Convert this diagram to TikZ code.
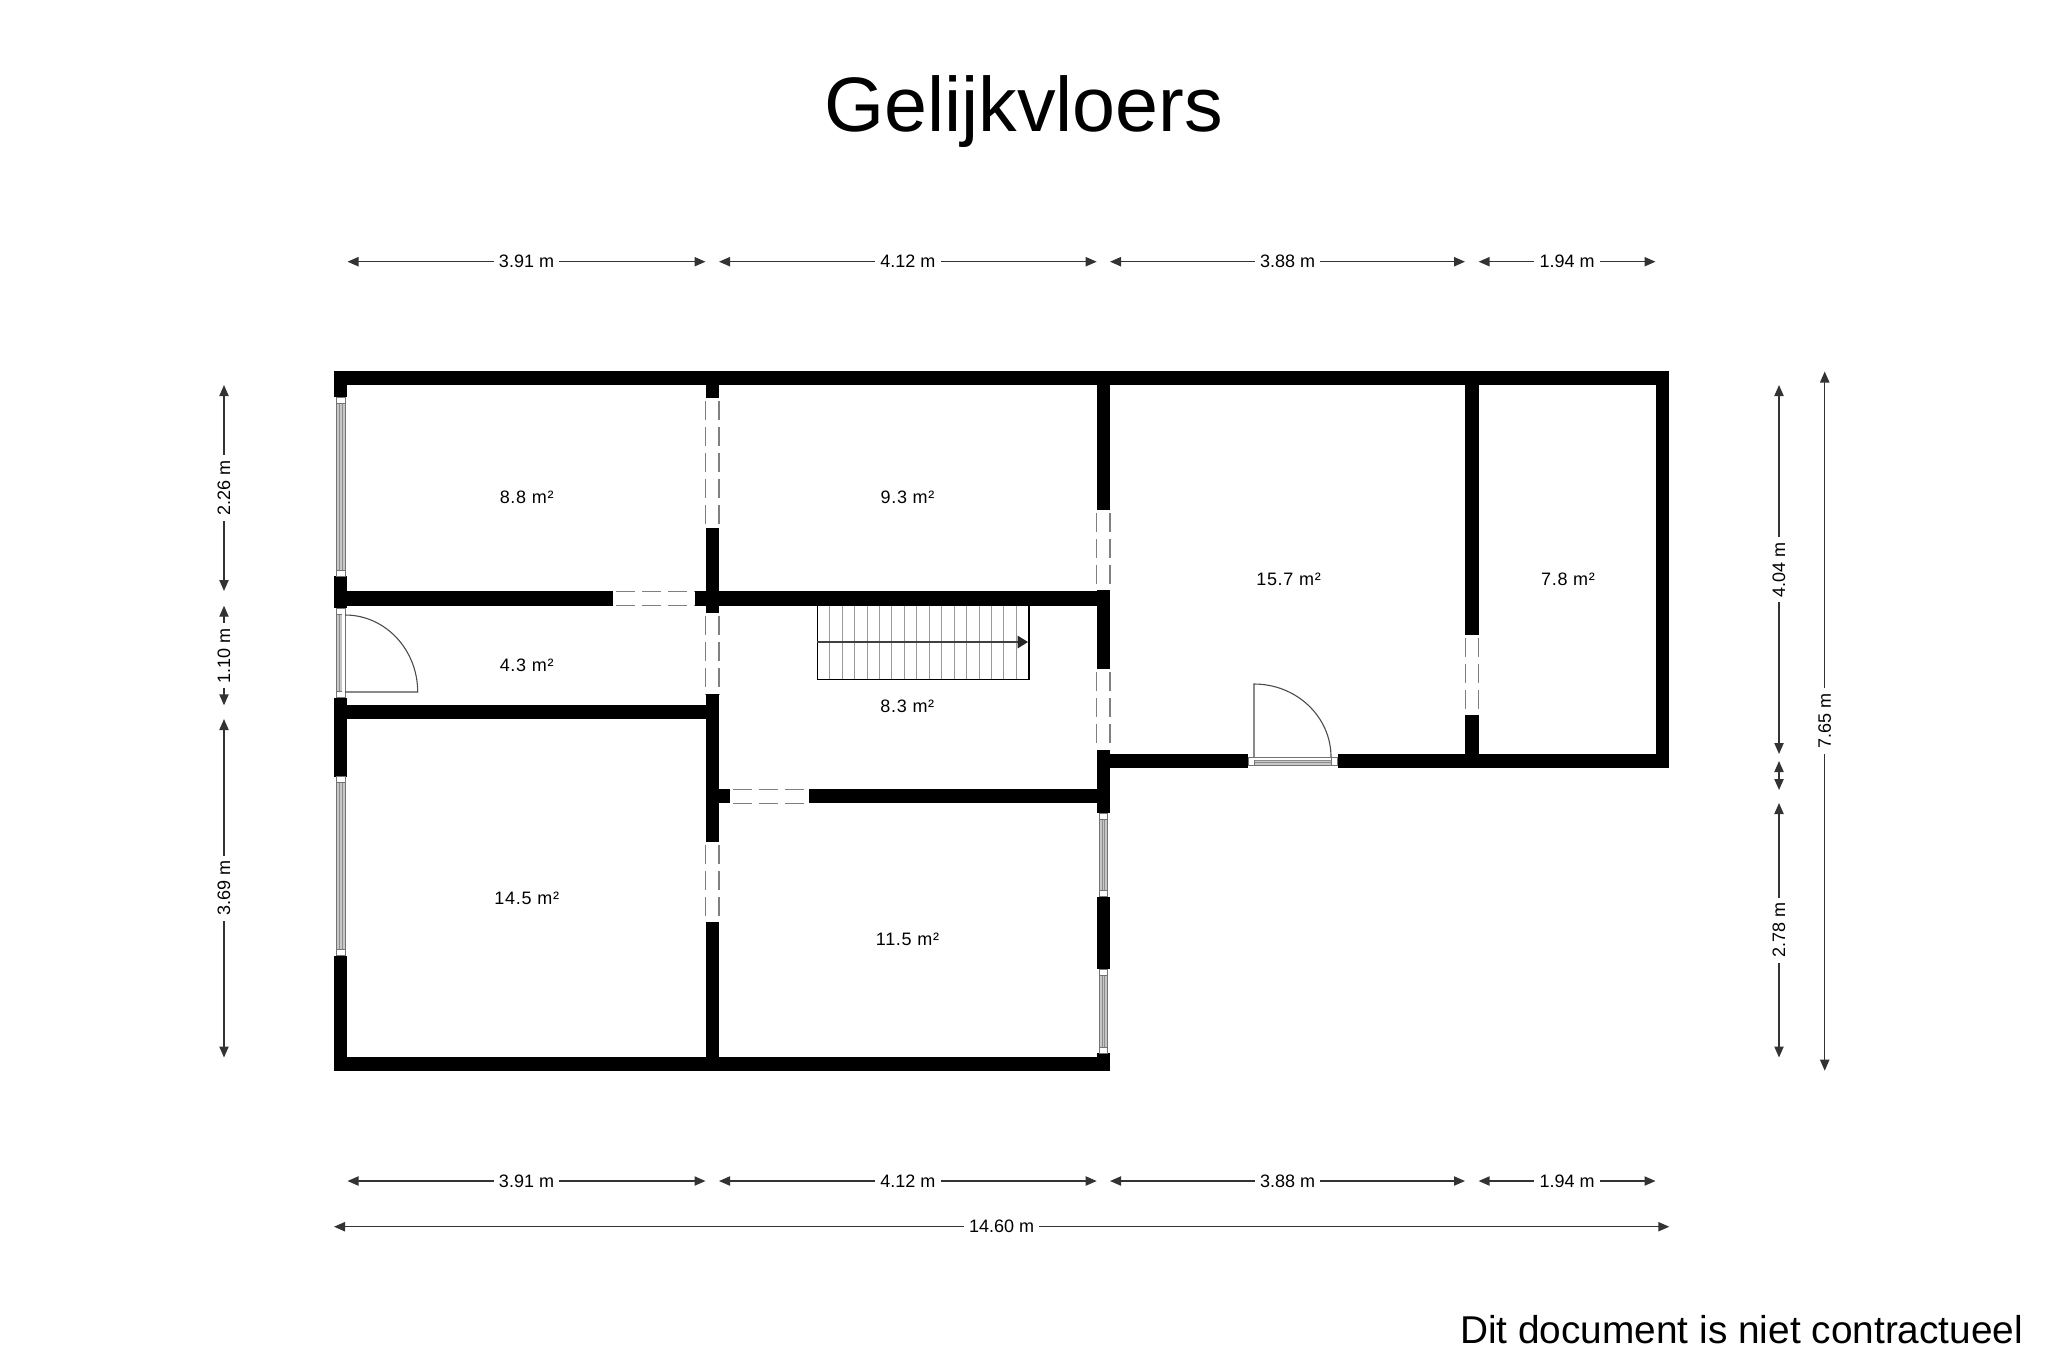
\documentclass[tikz,border=0pt]{standalone}
\usepackage{fontspec}
\setmainfont{Liberation Sans}
\usetikzlibrary{arrows.meta}
\tikzset{
  wall/.style={fill=black},
  dimline/.style={draw=black!80,line width=0.7pt,{Triangle[length=5.5pt,width=4.6pt]}-{Triangle[length=5.5pt,width=4.6pt]}},
  dimlabel/.style={fill=white,inner xsep=2.6pt,inner ysep=1pt,font=\fontsize{9}{10}\selectfont,text=black},
  roomlabel/.style={font=\fontsize{9}{10}\selectfont\addfontfeature{LetterSpace=4},text=black},
  doorgap/.style={fill=white},
  dashline/.style={draw=black!50,line width=0.6pt,dash pattern=on 9.5pt off 3.5pt,dash phase=-1.5pt},
  glass/.style={fill=black!22,draw=black!55,line width=0.4pt},
  glassline/.style={draw=black!45,line width=0.35pt},
  frame/.style={fill=white,draw=black!55,line width=0.4pt},
  leaf/.style={draw=black!70,line width=0.55pt},
  tread/.style={draw=black!40,line width=0.5pt}
}
% gaps
\newcommand{\gapV}[3]{\fill[doorgap] (#1-6.6,#2) rectangle (#1+6.6,#3);
  \draw[dashline] (#1-6.6,#2) -- (#1-6.6,#3);
  \draw[dashline] (#1+6.6,#2) -- (#1+6.6,#3);}
\newcommand{\gapH}[3]{\fill[doorgap] (#2,#1-7) rectangle (#3,#1+7);
  \draw[dashline] (#2,#1-7) -- (#3,#1-7);
  \draw[dashline] (#2,#1+7) -- (#3,#1+7);}
% windows
\newcommand{\winV}[3]{\draw[glass] (#1-4.1,#2+6) rectangle (#1+4.1,#3-6);
  \draw[glassline] (#1-1.4,#2+6) -- (#1-1.4,#3-6);
  \draw[glassline] (#1+1.4,#2+6) -- (#1+1.4,#3-6);
  \draw[frame] (#1-4.1,#2) rectangle (#1+4.1,#2+6);
  \draw[frame] (#1-4.1,#3-6) rectangle (#1+4.1,#3);}
\newcommand{\winH}[3]{\draw[glass] (#2+6,#1-4.1) rectangle (#3-6,#1+4.1);
  \draw[glassline] (#2+6,#1-1.4) -- (#3-6,#1-1.4);
  \draw[glassline] (#2+6,#1+1.4) -- (#3-6,#1+1.4);
  \draw[frame] (#2,#1-4.1) rectangle (#2+6,#1+4.1);
  \draw[frame] (#3-6,#1-4.1) rectangle (#3,#1+4.1);}
% dimensions
\newcommand{\dimH}[5]{\coordinate (#5a) at (#2,#1); \coordinate (#5b) at (#3,#1);
  \draw[dimline] (#5a) -- node[dimlabel] (#5) {#4} (#5b);}
\newcommand{\dimV}[5]{\coordinate (#5a) at (#1,#2); \coordinate (#5b) at (#1,#3);
  \draw[dimline] (#5a) -- node[dimlabel,rotate=90] (#5) {#4} (#5b);}
\begin{document}
\begin{tikzpicture}[x=0.5pt,y=-0.5pt]
\useasboundingbox[fill=white] (0,0) rectangle (2048,1367);

% title and footer
\node[anchor=base,inner sep=0pt,font=\fontsize{38.6}{40}\selectfont] (title) at (1023.5,131.7) {Gelijkvloers};
\node[anchor=base east,inner sep=0pt,font=\fontsize{19.4}{22}\selectfont] (footer) at (2023.5,1343) {Dit document is niet contractueel};

% door gaps (under walls)
\gapV{712.3}{397.7}{527.7}
\gapV{712.3}{612.7}{694.3}
\gapV{712.3}{842.3}{922.3}
\gapV{1103.3}{510}{590}
\gapV{1103.3}{669.3}{750}
\gapV{1471.8}{635.3}{715.3}
\gapH{598.4}{613.3}{695}
\gapH{796.3}{730}{809.3}

% walls
\fill[wall] (334,371.3) rectangle (1669,385);
\fill[wall] (334,371.3) rectangle (347.3,396.7);
\fill[wall] (334,576) rectangle (347.3,608.3);
\fill[wall] (334,697.7) rectangle (347.3,776.7);
\fill[wall] (334,955.7) rectangle (347.3,1071);
\fill[wall] (334,1057.3) rectangle (1110,1071);
\fill[wall] (347,591.3) rectangle (613.3,605.7);
\fill[wall] (695,591.3) rectangle (1097,605.7);
\fill[wall] (347,705.3) rectangle (706,719.3);
\fill[wall] (705.7,385) rectangle (719,397.7);
\fill[wall] (705.7,527.7) rectangle (719,612.7);
\fill[wall] (705.7,694.3) rectangle (719,842.3);
\fill[wall] (705.7,922.3) rectangle (719,1057.3);
\fill[wall] (1096.7,385) rectangle (1110,510);
\fill[wall] (1096.7,590) rectangle (1110,669.3);
\fill[wall] (1096.7,750) rectangle (1110,813.3);
\fill[wall] (1096.7,896.7) rectangle (1110,969.3);
\fill[wall] (1096.7,1053.3) rectangle (1110,1071);
\fill[wall] (719,789.3) rectangle (730,803.3);
\fill[wall] (809.3,789.3) rectangle (1097,803.3);
\fill[wall] (1110,754.3) rectangle (1247.7,768);
\fill[wall] (1337.7,754.3) rectangle (1669,768);
\fill[wall] (1465,385) rectangle (1478.5,635.3);
\fill[wall] (1465,715.3) rectangle (1478.5,754.3);
\fill[wall] (1655.7,371.3) rectangle (1669,768);

% windows
\winV{340.8}{397}{576}
\winV{340.8}{608.3}{697.7}
\winV{340.8}{776.7}{955.7}
\winV{1103.3}{813.3}{896.7}
\winV{1103.3}{969.3}{1053.3}
\winH{761.3}{1248}{1337.5}
\fill[white] (1254.2,757.6) rectangle (1331,760);
\fill[white] (342.4,614.4) rectangle (344.8,691.6);

% doors
\draw[leaf] (345.2,692) -- (417.7,692) .. controls (417.7,649.5) and (385.2,615) .. (345.2,615);
\draw[leaf] (1254,757) -- (1254,684) .. controls (1296.5,684) and (1331,716.7) .. (1331,757);

% stairs
\foreach \i in {1,...,16} {\draw[tread] ({817.3+12.44*\i},605.7) -- ({817.3+12.44*\i},679.3);}
\draw[black,line width=0.8pt] (817.3,605.7) -- (817.3,679.3) -- (1028.7,679.3) -- (1028.7,605.7);
\coordinate (stairstart) at (817.3,642);
\coordinate (stairend) at (1017.5,642);
\draw[black!75,line width=0.6pt] (stairstart) -- (stairend);
\fill[black!85] (1017.5,635.5) -- (1028,642) -- (1017.5,648.5) -- cycle;

% room areas
\node[roomlabel] (r1) at (526.7,497.7) {8.8 m²};
\node[roomlabel] (r2) at (907.5,497.7) {9.3 m²};
\node[roomlabel] (r3) at (1288.6,579.5) {15.7 m²};
\node[roomlabel] (r4) at (1568,579.5) {7.8 m²};
\node[roomlabel] (r5) at (526.7,665) {4.3 m²};
\node[roomlabel] (r6) at (907.3,706.7) {8.3 m²};
\node[roomlabel] (r7) at (526.7,898) {14.5 m²};
\node[roomlabel] (r8) at (907.5,939) {11.5 m²};

% dimensions, top
\dimH{261.7}{347.5}{705.5}{3.91 m}{ta}
\dimH{261.7}{719}{1096.7}{4.12 m}{tb}
\dimH{261.7}{1110}{1465}{3.88 m}{tc}
\dimH{261.7}{1478.6}{1655.5}{1.94 m}{td}
% bottom
\dimH{1181}{347.5}{705.5}{3.91 m}{ba}
\dimH{1181}{719}{1096.7}{4.12 m}{bb}
\dimH{1181}{1110}{1465}{3.88 m}{bc}
\dimH{1181}{1478.6}{1655.5}{1.94 m}{bd}
\dimH{1226.7}{334}{1669.3}{14.60 m}{be}
% left
\dimV{224}{385}{591}{2.26 m}{la}
\dimV{224}{605.7}{705.3}{1.10 m}{lb}
\dimV{224}{719}{1057.5}{3.69 m}{lc}
% right
\dimV{1779}{385}{754}{4.04 m}{ra}
\coordinate (rsa) at (1779,761);
\coordinate (rsb) at (1779,790);
\draw[dimline] (rsa) -- (rsb);
\dimV{1779}{803}{1057.5}{2.78 m}{rc}
\dimV{1824.7}{371.5}{1070.7}{7.65 m}{rd}
\end{tikzpicture}
\end{document}
